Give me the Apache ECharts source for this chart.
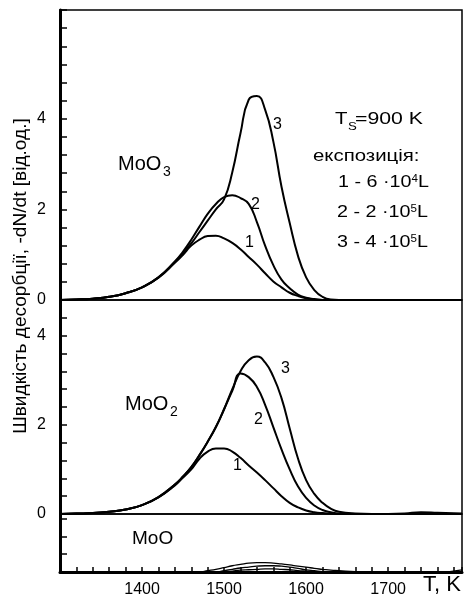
<!DOCTYPE html>
<html>
<head>
<meta charset="utf-8">
<script src="https://cdn.jsdelivr.net/npm/echarts@6/dist/echarts.min.js"></script>
<style>
  html, body { margin: 0; background: #fff; }
  #chart { width: 467px; height: 599px; }
</style>
</head>
<body>
<div id="chart"></div>
<script>
// temperature grid, K
const temps = [1300, 1320, 1340, 1360, 1380, 1400, 1420, 1440, 1450, 1460, 1470, 1480, 1490, 1500, 1510, 1520,
  1530, 1540, 1550, 1560, 1570, 1580, 1590, 1600, 1610, 1620, 1630, 1640, 1660, 1680, 1700, 1720, 1740, 1760, 1790];

// MoO3 panel (exposures 1, 2, 3)
const moo3_1 = [0, 0.01, 0.03, 0.07, 0.15, 0.28, 0.49, 0.82, 1.0, 1.2, 1.33, 1.41, 1.42, 1.36, 1.26, 1.12,
  0.95, 0.78, 0.59, 0.41, 0.28, 0.16, 0.09, 0.04, 0.01, 0, 0, 0, 0, 0, 0, 0, 0, 0, 0];
const moo3_2 = [0, 0.01, 0.03, 0.07, 0.15, 0.28, 0.5, 0.85, 1.07, 1.33, 1.62, 1.9, 2.12, 2.27, 2.31, 2.25,
  2.12, 1.72, 1.2, 0.77, 0.45, 0.26, 0.12, 0.05, 0.02, 0, 0, 0, 0, 0, 0, 0, 0, 0, 0];
const moo3_3 = [0, 0.01, 0.03, 0.07, 0.15, 0.28, 0.5, 0.84, 1.03, 1.25, 1.5, 1.75, 2.0, 2.22, 2.82, 3.68,
  4.42, 4.5, 4.2, 3.5, 2.5, 1.7, 0.98, 0.5, 0.22, 0.07, 0.01, 0, 0, 0, 0, 0, 0, 0, 0];

// MoO2 panel
const moo2_1 = [0, 0.01, 0.02, 0.05, 0.1, 0.2, 0.37, 0.64, 0.82, 1.0, 1.24, 1.4, 1.47, 1.47, 1.4, 1.26,
  1.09, 0.93, 0.76, 0.58, 0.4, 0.25, 0.15, 0.08, 0.04, 0.02, 0.01, 0, 0, 0, 0, 0, 0, 0, 0];
const moo2_2 = [0, 0.01, 0.02, 0.05, 0.1, 0.2, 0.38, 0.66, 0.84, 1.05, 1.32, 1.62, 1.95, 2.35, 2.76, 3.15,
  3.07, 2.85, 2.45, 1.95, 1.45, 1.0, 0.62, 0.36, 0.19, 0.09, 0.04, 0.01, 0, 0, 0, 0, 0, 0, 0];
const moo2_3 = [0, 0.01, 0.02, 0.05, 0.1, 0.2, 0.38, 0.66, 0.84, 1.05, 1.32, 1.62, 1.95, 2.35, 2.8, 3.2,
  3.45, 3.53, 3.4, 3.08, 2.6, 1.92, 1.25, 0.76, 0.45, 0.25, 0.12, 0.05, 0.01, 0, 0, 0.01, 0.04, 0.03, 0.01];

// MoO panel
const moo_1 = [0, 0, 0, 0, 0, 0, 0, 0, 0, 0, 0, 0, 0, 0, 0.02, 0.04,
  0.05, 0.06, 0.07, 0.07, 0.06, 0.05, 0.03, 0.02, 0.01, 0, 0, 0, 0, 0, 0, 0, 0, 0, 0];
const moo_2 = [0, 0, 0, 0, 0, 0, 0, 0, 0, 0, 0, 0, 0, 0.03, 0.06, 0.09,
  0.11, 0.13, 0.14, 0.14, 0.13, 0.11, 0.08, 0.05, 0.03, 0.01, 0, 0, 0, 0, 0, 0, 0, 0, 0];
const moo_3 = [0, 0, 0, 0, 0, 0, 0, 0, 0, 0, 0, 0.03, 0.06, 0.1, 0.14, 0.17,
  0.2, 0.21, 0.21, 0.2, 0.18, 0.16, 0.13, 0.11, 0.08, 0.06, 0.04, 0.03, 0.01, 0, 0, 0, 0, 0, 0.05];

const font = 'Liberation Sans, Arial, sans-serif';
const chart = echarts.init(document.getElementById('chart'));

const grids = [
  { left: 60, width: 402, top: 10, height: 290 },
  { left: 60, width: 402, top: 300, height: 214 },
  { left: 60, width: 402, top: 514, height: 58 }
].map(g => Object.assign(g, { show: true, borderColor: '#000', borderWidth: 1.5 }));

const xAxes = [0, 1, 2].map(i => ({
  type: 'value', gridIndex: i, min: 1300, max: 1790, interval: 20,
  show: i === 2,
  axisLine: { lineStyle: { color: '#000', width: 3 } },
  axisTick: { inside: true, length: 5, lineStyle: { color: '#000', width: 1.5 } },
  axisLabel: {
    color: '#000', fontFamily: font, fontSize: 16, margin: 10,
    formatter: v => (v % 100 === 0 && v > 1300) ? String(v) : ''
  },
  splitLine: { show: false }
}));

const yMax = [6.4, 4.8, 1.3];
const yAxes = [0, 1, 2].map(i => ({
  type: 'value', gridIndex: i, min: 0, max: yMax[i], interval: 0.4,
  axisLine: { show: true, lineStyle: { color: '#000', width: 3 } },
  axisTick: { inside: true, length: 7, lineStyle: { color: '#000', width: 1.5 } },
  axisLabel: {
    show: i < 2, color: '#000', fontFamily: font, fontSize: 16, margin: 14,
    formatter: v => {
      const r = Math.round(v);
      return (Math.abs(v - r) < 1e-6 && r % 2 === 0 && r <= 4) ? String(r) : '';
    }
  },
  splitLine: { show: false }
}));

function curve(arr, idx, w) {
  return {
    type: 'line', xAxisIndex: idx, yAxisIndex: idx,
    data: temps.map((t, i) => [t, arr[i]]),
    smooth: 0.5, showSymbol: false, silent: true,
    lineStyle: { color: '#000', width: w }
  };
}

// text element; sx stretches it horizontally like the scanned figure
const txt = (x, y, text, size, sx, extra) => ({
  type: 'text', x, y, scaleX: sx || 1,
  style: Object.assign({ text, fontFamily: font, fontSize: size, fill: '#000' }, extra || {})
});

const expRich = {
  sup: { fontSize: 10, fontFamily: font, verticalAlign: 'top' }
};

chart.setOption({
  animation: false,
  grid: grids,
  xAxis: xAxes,
  yAxis: yAxes,
  series: [
    curve(moo3_1, 0, 2), curve(moo3_2, 0, 2), curve(moo3_3, 0, 2),
    curve(moo2_1, 1, 2), curve(moo2_2, 1, 2), curve(moo2_3, 1, 2),
    curve(moo_1, 2, 1.3), curve(moo_2, 2, 1.3), curve(moo_3, 2, 1.3)
  ],
  graphic: [
    Object.assign(txt(21, 276, 'Швидкість десорбції, -dN/dt [від.од.]', 18, 1.06,
      { align: 'center', verticalAlign: 'middle' }), { rotation: Math.PI / 2 }),
    txt(423, 574, 'T, K', 22),
    // panel titles
    txt(118, 154, 'MoO', 20), txt(163, 165, '3', 14),
    txt(125, 394, 'MoO', 20), txt(170, 405, '2', 14),
    txt(132, 529, 'MoO', 19),
    // curve numbers, MoO3
    txt(273, 117, '3', 16), txt(251, 197, '2', 16), txt(245, 235, '1', 16),
    // curve numbers, MoO2
    txt(281, 361, '3', 16), txt(254, 412, '2', 16), txt(233, 458, '1', 16),
    // conditions
    txt(335, 111, 'T', 17, 1.2), txt(348, 121, 'S', 11, 1.2), txt(355, 111, '=900 K', 17, 1.25),
    txt(313, 148, 'експозиція:', 17, 1.2),
    txt(338, 174, '1 - 6 ·10{sup|4}L', 17, 1.16, { rich: expRich }),
    txt(337, 204, '2 - 2 ·10{sup|5}L', 17, 1.16, { rich: expRich }),
    txt(337, 234, '3 - 4 ·10{sup|5}L', 17, 1.16, { rich: expRich })
  ]
});
</script>
</body>
</html>
